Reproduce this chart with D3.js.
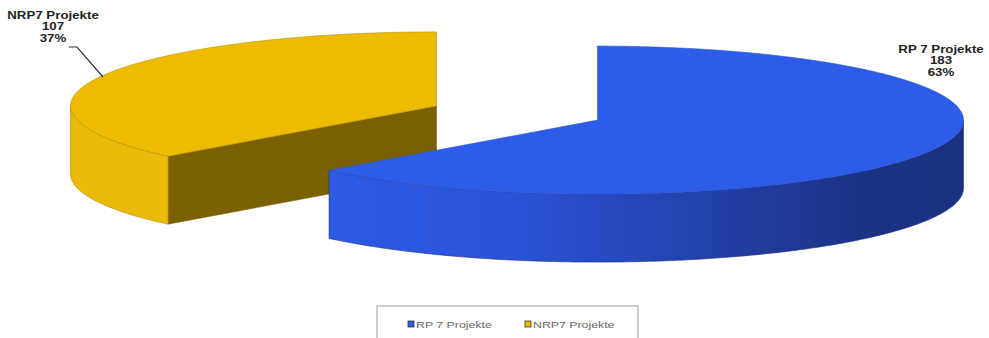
<!DOCTYPE html>
<html>
<head>
<meta charset="utf-8">
<script src="https://cdn.jsdelivr.net/npm/d3@7"></script>
<style>
  body { margin: 0; background: #fff; }
  svg { display: block; font-family: Arial, "Liberation Sans", sans-serif; }
</style>
</head>
<body>
<svg id="viz"></svg>
<script>
// ----------------------------------------------------------------------------------------------------------------
// DATA

var categories = ["RP 7 Projekte", "NRP7 Projekte"];
var counts = [183, 107];
var percents = ["63%", "37%"];

// ----------------------------------------------------------------------------------------------------------------
// INITIAL SETUP

var w = 989;
var h = 338;
var viz = d3.select("#viz").attr("width", w).attr("height", h);

var cx = 517, cy = 113;   // pie centre before explode
var rx = 366, ry = 74;    // ellipse radii of the top face
var depth = 68;           // thickness of the pie
var explode = 0.24;       // offset of each slice as fraction of radius
var stretch = 1.33;       // the original picture is stretched sideways, text too

var topColors = ["#2d5ce8", "#edbb00"];
var sideColors = ["url(#blueSide)", "#ebba08"];
var cutColors = ["#1c3388", "#7a6000"];

var defs = viz.append("defs");
var grad = defs.append("linearGradient")
  .attr("id", "blueSide")
  .attr("gradientUnits", "userSpaceOnUse")
  .attr("x1", 330).attr("x2", 965).attr("y1", 0).attr("y2", 0);
[["0%", "#2d5ae6"], ["30%", "#2a52d6"], ["60%", "#2241a8"], ["85%", "#1b3182"], ["100%", "#1b3180"]]
  .forEach(function(s) { grad.append("stop").attr("offset", s[0]).attr("stop-color", s[1]); });

// ----------------------------------------------------------------------------------------------------------------
// CHART

var pie = d3.pie().sort(null).value(function(d) { return d; });
var arcs = pie(counts);

// point on the ellipse; angle measured clockwise from 12 o'clock like d3.pie
function pt(ox, oy, a, dy) {
  return [ox + Math.sin(a) * rx, oy - Math.cos(a) * ry + (dy || 0)];
}

var line = d3.line();

function drawSlice(d, i) {
  var mid = (d.startAngle + d.endAngle) / 2;
  var ox = cx + Math.sin(mid) * rx * explode;
  var oy = cy - Math.cos(mid) * ry * explode;
  var g = viz.append("g").attr("class", "slice");

  // cut faces (radial walls), only those turned toward the viewer
  [d.startAngle, d.endAngle].forEach(function(a, k) {
    var s = Math.sin(a);
    var visible = (k === 0) ? s < -1e-6 : s > 1e-6;
    if (!visible) return;
    var p = pt(ox, oy, a);
    g.append("path")
      .attr("d", line([[ox, oy], p, [p[0], p[1] + depth], [ox, oy + depth]]) + "Z")
      .attr("fill", cutColors[i])
      .attr("stroke", cutColors[i]).attr("stroke-width", 0.5);
  });

  // outer wall: only the front half (between 90 and 270 degrees)
  var a0 = Math.max(d.startAngle, Math.PI / 2);
  var a1 = Math.min(d.endAngle, Math.PI * 1.5);
  if (a1 > a0) {
    var angles = d3.range(a0, a1, 0.01).concat([a1]);
    var topPts = angles.map(function(a) { return pt(ox, oy, a); });
    var botPts = angles.slice().reverse().map(function(a) { return pt(ox, oy, a, depth); });
    g.append("path")
      .attr("d", line(topPts.concat(botPts)) + "Z")
      .attr("fill", sideColors[i])
      .attr("stroke", i === 0 ? "#1c2e80" : "#b08a00").attr("stroke-width", 0.6);
  }

  // top face
  var tAngles = d3.range(d.startAngle, d.endAngle, 0.01).concat([d.endAngle]);
  var face = [[ox, oy]].concat(tAngles.map(function(a) { return pt(ox, oy, a); }));
  g.append("path")
    .attr("d", line(face) + "Z")
    .attr("fill", topColors[i])
    .attr("stroke", i === 0 ? "#2a55d8" : "#b89000").attr("stroke-width", 0.6);
}

// back slice (yellow) first, then the front one
drawSlice(arcs[1], 1);
drawSlice(arcs[0], 0);

// data labels
var labelPos = [[941, 53], [53, 19]];
arcs.forEach(function(d, i) {
  var t = viz.append("g")
    .attr("transform", "translate(" + labelPos[i][0] + "," + labelPos[i][1] + ") scale(" + stretch + ",1)")
    .append("text")
    .attr("text-anchor", "middle")
    .attr("font-size", 10).attr("font-weight", "bold").attr("fill", "#222");
  [categories[i], counts[i], percents[i]].forEach(function(s, k) {
    t.append("tspan").attr("x", 0).attr("dy", k === 0 ? 0 : 11.5).text(s);
  });
});

// leader line for the yellow label
viz.append("path")
  .attr("d", line([[69, 47], [77, 47], [103, 77]]))
  .attr("fill", "none").attr("stroke", "#333").attr("stroke-width", 1.2);

// legend
var legend = viz.append("g");
legend.append("rect")
  .attr("x", 377).attr("y", 306).attr("width", 261).attr("height", 40)
  .attr("fill", "#fff").attr("stroke", "#999").attr("stroke-width", 1);
var legX = [408, 525];
categories.forEach(function(c, i) {
  legend.append("rect")
    .attr("x", legX[i]).attr("y", 321).attr("width", 6).attr("height", 6)
    .attr("fill", topColors[i]).attr("stroke", "#333").attr("stroke-width", 0.8);
  legend.append("g")
    .attr("transform", "translate(" + (legX[i] + 8) + ",327.5) scale(1.45,1)")
    .append("text")
    .attr("font-size", 8.5).attr("fill", "#666")
    .text(c);
});
</script>
</body>
</html>
